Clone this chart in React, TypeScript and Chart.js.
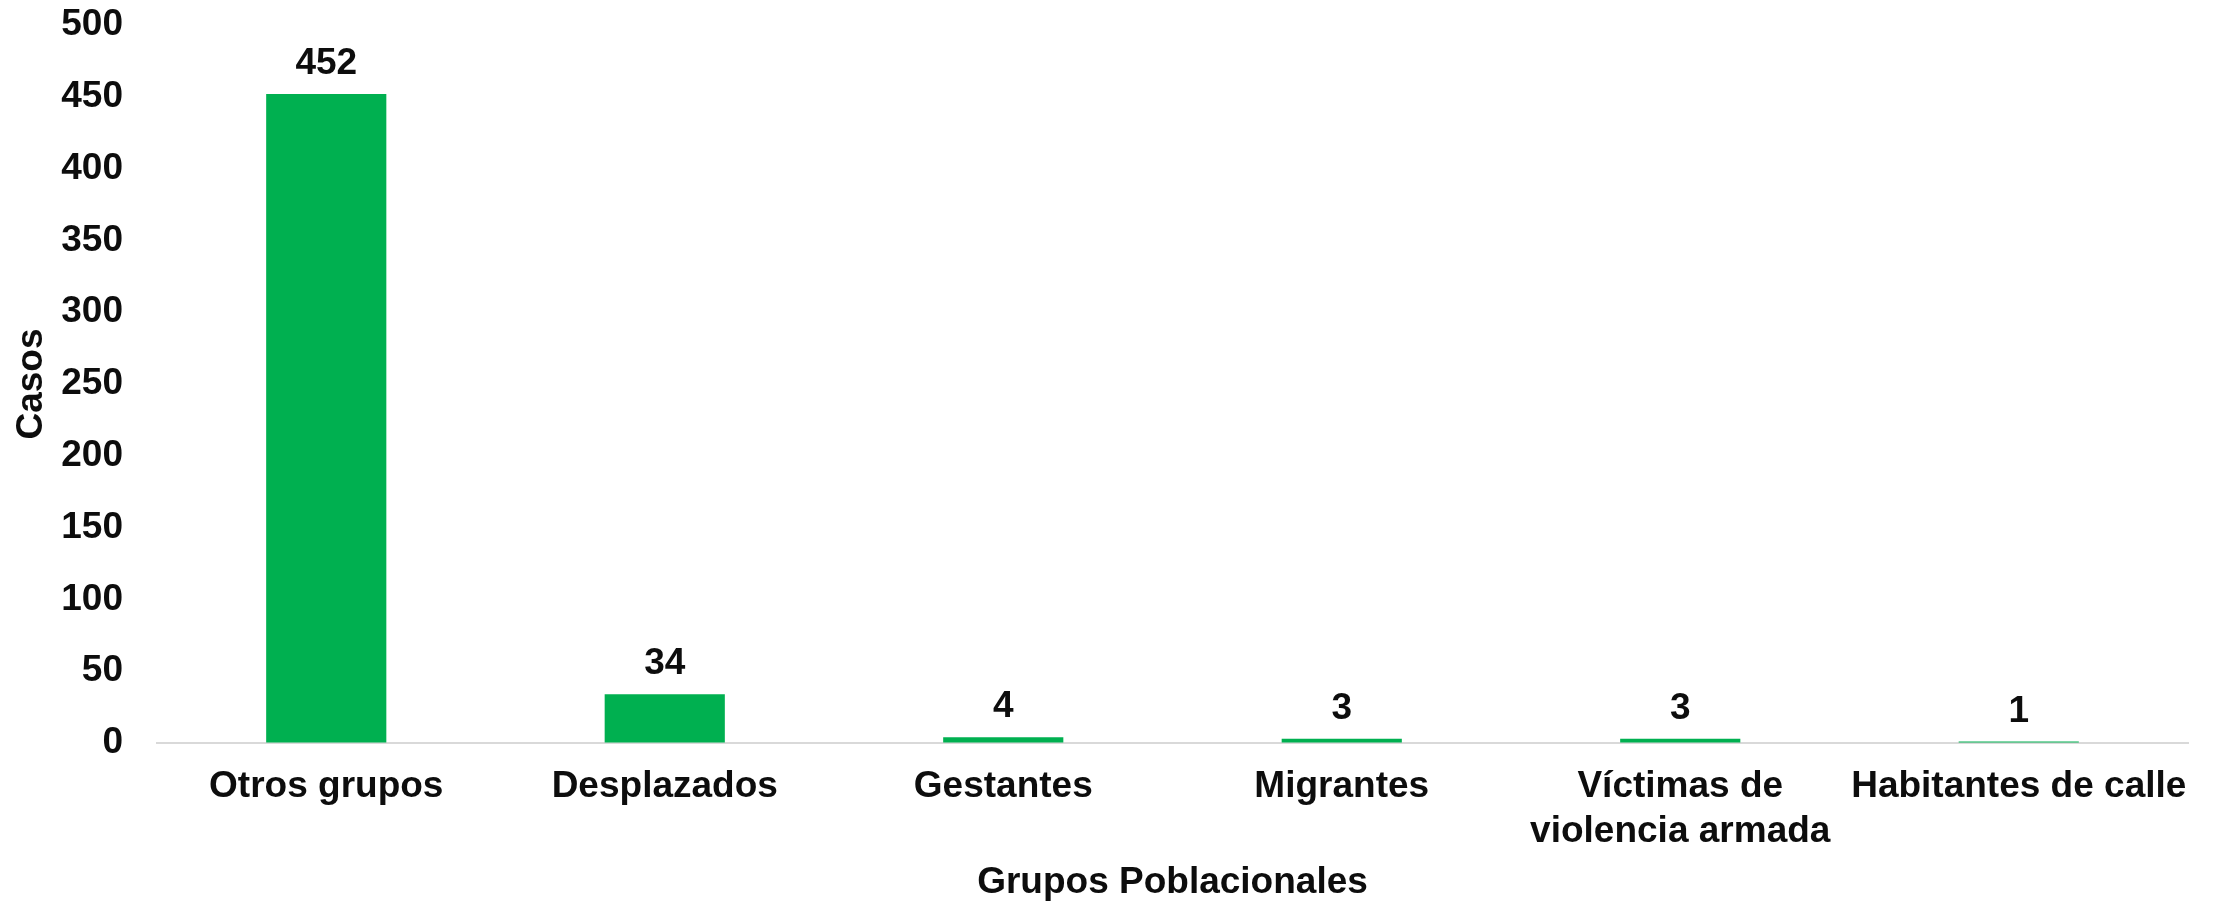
import React, { useEffect, useRef } from "react";
import { Chart, registerables } from "chart.js";

Chart.register(...registerables);

const categories: (string | string[])[] = [
  "Otros grupos",
  "Desplazados",
  "Gestantes",
  "Migrantes",
  ["Víctimas de", "violencia armada"],
  "Habitantes de calle",
];
const casos: number[] = [452, 34, 4, 3, 3, 1];
const yTitle = "Casos";
const xTitle = "Grupos Poblacionales";

const FONT = "'Liberation Sans', Arial, sans-serif";
const TEXT = "#0d0d0d";
const GREEN = "#00B050";
const FS = 37;

const valueLabels = {
  id: "valueLabels",
  afterDatasetsDraw(chart: any) {
    const { ctx } = chart;
    const meta = chart.getDatasetMeta(0);
    ctx.save();
    ctx.font = `bold ${FS}px ${FONT}`;
    ctx.fillStyle = TEXT;
    ctx.textAlign = "center";
    ctx.textBaseline = "alphabetic";
    meta.data.forEach((bar: any, i: number) => {
      ctx.fillText(String(casos[i]), bar.x, bar.y - 20);
    });
    ctx.restore();
  },
};

export default function App() {
  const ref = useRef<HTMLCanvasElement | null>(null);
  useEffect(() => {
    document.body.style.margin = "0";
    if (!ref.current) return;
    const chart = new Chart(ref.current, {
      type: "bar",
      data: {
        labels: categories,
        datasets: [
          {
            data: casos,
            backgroundColor: GREEN,
            borderWidth: 0,
            barPercentage: 0.355,
            categoryPercentage: 1,
          },
        ],
      },
      options: {
        animation: false,
        responsive: true,
        maintainAspectRatio: false,
        layout: { padding: { top: 25, right: 28, bottom: 0, left: 0 } },
        plugins: {
          legend: { display: false },
          tooltip: { enabled: false },
        },
        scales: {
          x: {
            grid: { display: false, drawTicks: false },
            border: { display: true, color: "#d9d9d9", width: 2 },
            ticks: {
              color: TEXT,
              padding: 22,
              maxRotation: 0,
              autoSkip: false,
              font: { family: FONT, size: FS, weight: "bold", lineHeight: 1.2 },
            },
            title: {
              display: true,
              text: xTitle,
              color: TEXT,
              padding: { top: 0, bottom: 0 },
              font: { family: FONT, size: FS, weight: "bold", lineHeight: 1 },
            },
            afterFit(scale: any) {
              scale.height = 158;
            },
          },
          y: {
            min: 0,
            max: 500,
            grid: {
              display: true,
              drawOnChartArea: false,
              drawTicks: true,
              tickLength: 34,
              tickColor: "rgba(0,0,0,0)",
            },
            border: { display: false },
            ticks: {
              stepSize: 50,
              color: TEXT,
              padding: 0,
              font: { family: FONT, size: FS, weight: "bold", lineHeight: 1.2 },
            },
            title: {
              display: true,
              text: yTitle,
              color: TEXT,
              padding: { top: 10, bottom: 0 },
              font: { family: FONT, size: FS, weight: "bold", lineHeight: 1.2 },
            },
            afterFit(scale: any) {
              scale.width = 157;
            },
          },
        },
      },
      plugins: [valueLabels],
    });
    return () => chart.destroy();
  }, []);
  return (
    <div style={{ width: 2216, height: 901, position: "relative", background: "#fff" }}>
      <canvas ref={ref} />
    </div>
  );
}
